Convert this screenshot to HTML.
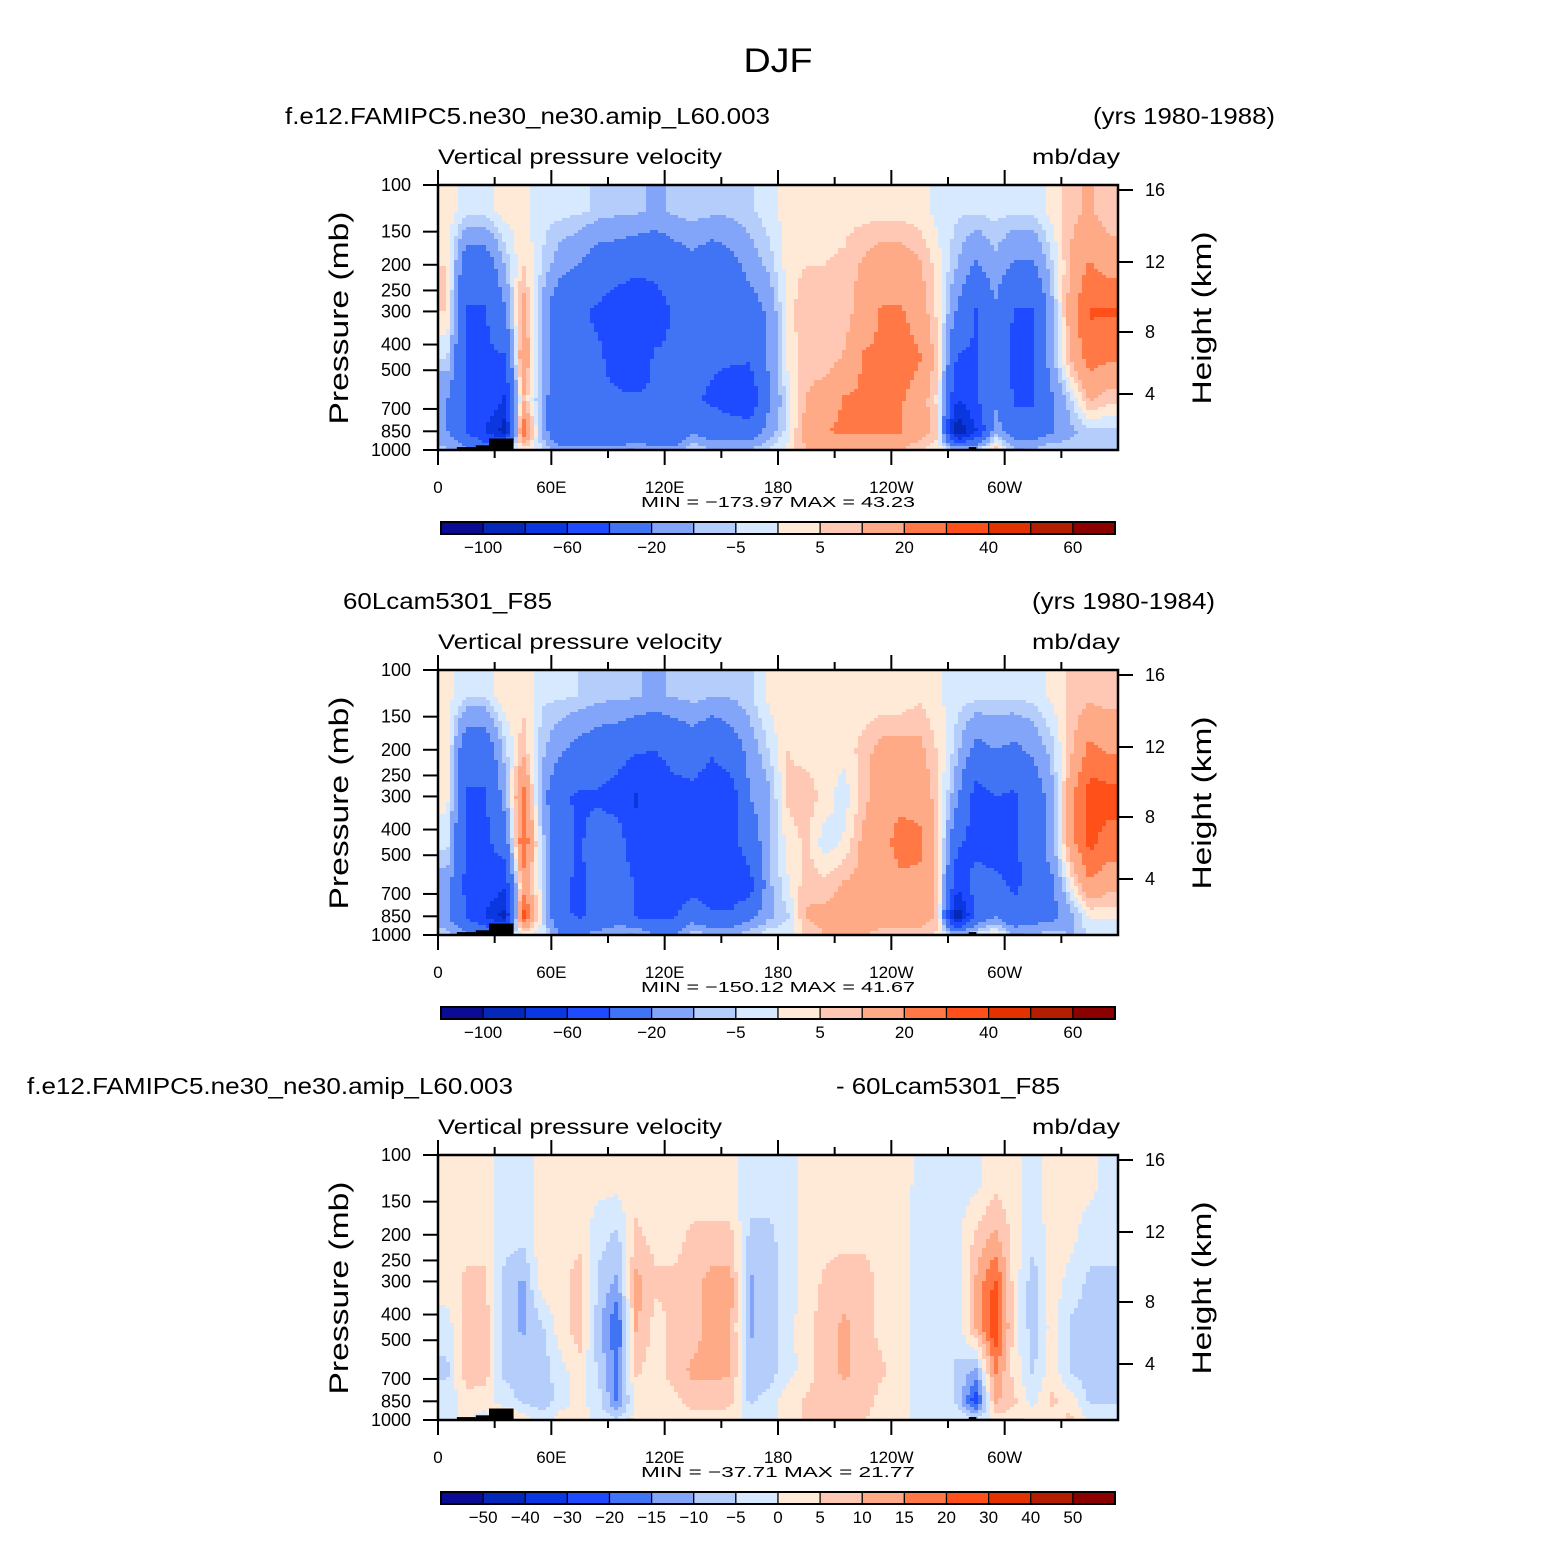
<!DOCTYPE html>
<html><head><meta charset="utf-8"><style>
html,body{margin:0;padding:0;background:#fff;}
svg text{font-family:"Liberation Sans",sans-serif;fill:#000;}
</style></head><body>
<svg id="fig" xmlns="http://www.w3.org/2000/svg" width="1558" height="1556" viewBox="0 0 1558 1556">
<text x="778" y="72" font-size="34" text-anchor="middle" textLength="69" lengthAdjust="spacingAndGlyphs">DJF</text>
</svg>
<script>
// ---- data ----
const lonCenters = [5,15,25,35,45,55,65,75,85,95,105,115,125,135,145,155,165,175,185,195,205,215,225,235,245,255,265,275,285,295,305,315,325,335,345,355];
const pLevels = [125,200,300,450,650,850,975];
const levelsAbs = [-100,-80,-60,-40,-20,-10,-5,0,5,10,20,30,40,50,60];
const labelsAbs = ["−100","","−60","","−20","","−5","","5","","20","","40","","60"];
const levelsDiff = [-50,-40,-30,-20,-15,-10,-5,0,5,10,15,20,30,40,50];
const labelsDiff = ["−50","−40","−30","−20","−15","−10","−5","0","5","10","15","20","30","40","50"];
const palette = ["#0b0b93","#0528b8","#0a37e0","#1e4bff","#4173f5","#82a5fa","#b4cdfa","#d7e9ff","#ffe9d7","#ffc8b4","#ffaa87","#ff7846","#ff5019","#e13200","#b41e00","#8c0000"];
const xTickLabels = ["0","60E","120E","180","120W","60W"];
const pTicks = [100,150,200,250,300,400,500,700,850,1000];
const hTicks = [16,12,8,4];
const hTickOffsets = [5,77,147,209];
const topo = [[10,20,975],[20,27,960],[27,40,905],[100,104,990],[120,128,993],[281,285,975],[285,310,990]];

const field1 = [
[2,5,5,-5,-20,-20,-10],[-2,-30,-42,-42,-42,-42,-20],[-2,-30,-42,-42,-42,-62,-30],[2,-10,-22,-42,-62,-90,-10],
[2,5,15,20,10,30,5],[-3,-5,-12,-12,-12,-12,-5],[-3,-15,-35,-30,-38,-38,-20],[-4,-20,-38,-38,-38,-38,-20],
[-6,-30,-42,-38,-38,-38,-20],[-8,-30,-52,-45,-38,-38,-20],[-8,-35,-55,-50,-38,-38,-12],[-12,-35,-48,-38,-38,-38,-20],
[-8,-30,-38,-38,-38,-38,-20],[-6,-25,-38,-38,-38,-22,-6],[-8,-30,-38,-38,-42,-30,-12],[-8,-25,-38,-38,-48,-30,-12],
[-6,-15,-28,-38,-55,-30,-12],[-2,-8,-18,-18,-22,-15,-6],[2,2,2,1,-3,-3,1],[3,5,10,8,10,15,10],
[3,5,8,6,15,20,15],[3,6,6,11,21,21,15],[3,11,15,21,21,21,15],[3,15,21,21,21,21,11],
[3,15,21,25,21,21,11],[2,11,15,21,15,15,6],[-2,2,3,6,3,6,2],[-4,-10,-22,-42,-62,-100,-20],
[-4,-22,-42,-42,-42,-62,-12],[-3,-12,-22,-30,-22,-12,6],[-4,-22,-42,-42,-42,-30,-12],[-4,-22,-42,-42,-42,-30,-12],
[2,-6,-12,-12,-22,-22,-6],[8,11,15,11,-6,-12,-6],[11,21,31,25,11,-6,-6],[6,15,31,21,6,-6,-6]];
const field2 = [
[2,3,2,-3,-15,-18,-8],[-4,-32,-42,-44,-44,-42,-20],[-4,-32,-42,-44,-44,-62,-28],[4,-8,-15,-32,-55,-88,-18],
[4,8,25,30,15,35,3],[-4,-8,-13,-6,-2,-2,-2],[-4,-18,-38,-33,-38,-37,-22],[-5,-25,-42,-42,-42,-42,-22],
[-7,-30,-42,-32,-35,-37,-18],[-8,-32,-48,-30,-25,-25,-15],[-9,-38,-62,-55,-42,-42,-12],[-12,-40,-50,-43,-42,-43,-22],
[-9,-35,-45,-45,-45,-43,-22],[-7,-30,-45,-45,-48,-28,-8],[-9,-38,-50,-50,-48,-38,-13],[-9,-30,-50,-48,-55,-36,-13],
[-6,-15,-20,-30,-48,-25,-8],[1,-5,-12,-12,-12,-12,-3],[4,5,6,2,-1,-6,-2],[1,3,8,6,8,11,6],
[1,2,3,-3,7,12,11],[1,2,-3,1,11,12,11],[1,7,7,12,12,12,11],[1,13,17,17,15,17,8],
[1,13,18,23,18,18,8],[4,12,17,22,18,17,7],[1,4,6,7,6,7,4],[-3,-8,-17,-37,-55,-95,-18],
[-3,-25,-48,-48,-30,-35,-6],[-4,-20,-40,-50,-35,-20,2],[-4,-23,-43,-43,-43,-35,-13],[-3,-17,-32,-32,-35,-28,-12],
[1,-7,-13,-12,-23,-25,-8],[6,8,17,15,1,-13,-11],[8,23,35,33,18,1,-3],[7,18,35,25,13,1,-3]];
const field3 = [
[2,2,3,-3,-6,-3,-2],[2,3,6,8,8,3,1],[2,3,6,8,8,2,-2],[-2,-3,-6,-8,-6,-3,8],
[-2,-3,-11,-11,-6,-6,2],[2,3,3,-6,-8,-8,-3],[2,2,3,3,-2,-3,2],[2,3,8,8,3,2,2],
[2,-3,-6,-8,-6,-3,-2],[2,-6,-11,-21,-16,-16,-6],[3,6,12,11,6,3,2],[2,3,6,3,2,3,2],
[2,3,6,6,8,3,2],[2,6,8,8,11,8,3],[2,6,12,12,11,8,3],[2,6,12,11,11,6,3],
[-3,-6,-11,-11,-8,-6,-2],[-3,-6,-8,-8,-8,-3,-2],[-3,-3,-3,-2,-2,3,2],[2,2,2,3,2,6,6],
[2,3,6,8,8,8,6],[2,3,8,11,11,8,6],[2,3,8,8,8,8,6],[2,2,3,3,6,3,2],
[3,2,2,2,2,2,2],[-2,-2,-2,-2,-3,-2,-2],[-2,-2,-3,-2,-2,-2,-2],[-2,-2,-3,-3,-6,-6,-2],
[-2,6,11,11,-11,-25,-6],[3,11,21,25,16,11,3],[2,3,3,3,3,6,3],[-2,-3,-8,-8,-6,-2,2],
[2,2,3,2,3,6,3],[2,2,-2,-6,-6,3,6],[2,-3,-6,-8,-8,-6,-2],[-2,-3,-6,-6,-8,-6,-2]];

const panels = [
 {top:185, field:field1, levels:levelsAbs, labels:labelsAbs, left:"f.e12.FAMIPC5.ne30_ne30.amip_L60.003", lx:285, lw:485, right:"(yrs 1980-1988)", rx:1093, rw:182, minmax:"MIN = −173.97   MAX =   43.23"},
 {top:670, field:field2, levels:levelsAbs, labels:labelsAbs, left:"60Lcam5301_F85", lx:343, lw:209, right:"(yrs 1980-1984)", rx:1032, rw:183, minmax:"MIN = −150.12   MAX =   41.67"},
 {top:1155, field:field3, levels:levelsDiff, labels:labelsDiff, left:"f.e12.FAMIPC5.ne30_ne30.amip_L60.003", lx:27, lw:486, right:"- 60Lcam5301_F85", rx:836, rw:224, minmax:"MIN = −37.71   MAX =   21.77"}
];

// ---- drawing ----
const NS="http://www.w3.org/2000/svg";
const svg=document.getElementById('fig');
const X0=438, X1=1118, H=265;
function xOf(lon){return X0+(X1-X0)*lon/360;}
function yOf(top,p){return top+H*Math.log10(p/100);}
function mk(tag,attrs,parent){const e=document.createElementNS(NS,tag);for(const k in attrs)e.setAttribute(k,attrs[k]);(parent||svg).appendChild(e);return e;}
function txt(s,attrs,parent){const e=mk('text',attrs,parent);e.textContent=s;return e;}
function interp(field,lon,p){
  let fi=(lon-5)/10; fi=Math.max(0,Math.min(lonCenters.length-1,fi));
  const i0=Math.floor(fi), i1=Math.min(i0+1,lonCenters.length-1), fx=fi-i0;
  const lp=Math.log(p); const L=pLevels.map(Math.log);
  let j0=0; if(lp<=L[0]){j0=0;} else if(lp>=L[L.length-1]){j0=L.length-2;} else {while(lp>L[j0+1])j0++;}
  let fy=(lp-L[j0])/(L[j0+1]-L[j0]); fy=Math.max(0,Math.min(1,fy));
  const a=field[i0][j0]*(1-fx)+field[i1][j0]*fx;
  const b=field[i0][j0+1]*(1-fx)+field[i1][j0+1]*fx;
  return a*(1-fy)+b*fy;
}
function colorIdx(levels,v){let k=0;while(k<levels.length&&v>=levels[k])k++;return k;}

panels.forEach((P,pi)=>{
  const g=mk('g',{},svg);
  
  
  const top=P.top;
  let t=txt(P.left,{x:P.lx,y:top-61,'font-size':23,textLength:P.lw,lengthAdjust:'spacingAndGlyphs'},g);
  
  t=txt(P.right,{x:P.rx,y:top-61,'font-size':23,textLength:P.rw,lengthAdjust:'spacingAndGlyphs'},g);
  
  t=txt("Vertical pressure velocity",{x:438,y:top-21,'font-size':21,textLength:284,lengthAdjust:'spacingAndGlyphs'},g);
  
  t=txt("mb/day",{x:1032,y:top-21,'font-size':21,textLength:88,lengthAdjust:'spacingAndGlyphs'},g);
  
  // field
  const fg=mk('g',{'shape-rendering':'crispEdges'},g);
  
  const dx=4, dy=3;
  for(let y=top;y<top+H;y+=dy){
    const hh=Math.min(dy,top+H-y);
    const p=100*Math.pow(10,(y+hh/2-top)/H);
    let runStart=X0, runC=-1;
    for(let x=X0;x<=X1;x+=dx){
      let c=-2;
      if(x<X1){const lon=(x+dx/2-X0)/(X1-X0)*360;c=colorIdx(P.levels,interp(P.field,lon,p)+0.01);}
      if(c!==runC){
        if(runC>=0){mk('rect',{x:runStart,y:y,width:Math.min(x,X1)-runStart,height:hh+0.5,fill:palette[runC]},fg);}
        runStart=x;runC=c;
      }
    }
  }
  // topography
  topo.forEach(tp=>{
    const r=mk('rect',{x:xOf(tp[0]),y:yOf(top,tp[2]),width:xOf(tp[1])-xOf(tp[0]),height:top+H-yOf(top,tp[2]),fill:'#000'},g);
    
  });
  // frame
  const fr=mk('rect',{x:X0,y:top,width:X1-X0,height:H,fill:'none',stroke:'#000','stroke-width':2.5},g);
  
  // x ticks
  for(let lon=0;lon<360;lon+=30){
    const x=xOf(lon), major=lon%60===0, len=major?15:8;
    mk('line',{x1:x,y1:top,x2:x,y2:top-len,stroke:'#000','stroke-width':2},g);
    mk('line',{x1:x,y1:top+H,x2:x,y2:top+H+len,stroke:'#000','stroke-width':2},g);
  }
  xTickLabels.forEach((s,i)=>{
    const tl=txt(s,{x:xOf(i*60),y:top+H+43,'font-size':17,'text-anchor':'middle'},g);
    
  });
  t=txt(P.minmax,{x:641,y:top+H+57,'font-size':15,textLength:274,lengthAdjust:'spacingAndGlyphs'},g);
  
  // y ticks
  pTicks.forEach(p=>{
    const y=yOf(top,p);
    mk('line',{x1:X0,y1:y,x2:X0-15,y2:y,stroke:'#000','stroke-width':2},g);
    const tl=txt(String(p),{x:411,y:y+6,'font-size':18,'text-anchor':'end'},g);
    
  });
  hTicks.forEach((h,i)=>{
    const y=top+hTickOffsets[i];
    mk('line',{x1:X1,y1:y,x2:X1+15,y2:y,stroke:'#000','stroke-width':2},g);
    const tl=txt(String(h),{x:1145,y:y+6,'font-size':18},g);
    
  });
  t=txt("Pressure  (mb)",{x:0,y:0,'font-size':27,'text-anchor':'middle',textLength:213,lengthAdjust:'spacingAndGlyphs',transform:`translate(348,${top+133}) rotate(-90)`},g);
  
  t=txt("Height  (km)",{x:0,y:0,'font-size':27,'text-anchor':'middle',textLength:173,lengthAdjust:'spacingAndGlyphs',transform:`translate(1211,${top+133}) rotate(-90)`},g);
  
  // colorbar
  const cb=mk('g',{},g);
  
  const cx0=441, cx1=1115, cw=(cx1-cx0)/palette.length, cy=top+337;
  palette.forEach((c,i)=>{
    const r=mk('rect',{x:cx0+i*cw,y:cy,width:cw,height:12,fill:c,stroke:'#000','stroke-width':1.2},cb);
    
  });
  mk('rect',{x:cx0,y:cy,width:cx1-cx0,height:12,fill:'none',stroke:'#000','stroke-width':2},cb);
  P.labels.forEach((s,i)=>{
    if(!s)return;
    const tl=txt(s,{x:cx0+(i+1)*cw,y:cy+31,'font-size':17,'text-anchor':'middle'},cb);
    
  });
});
</script>
</body></html>
